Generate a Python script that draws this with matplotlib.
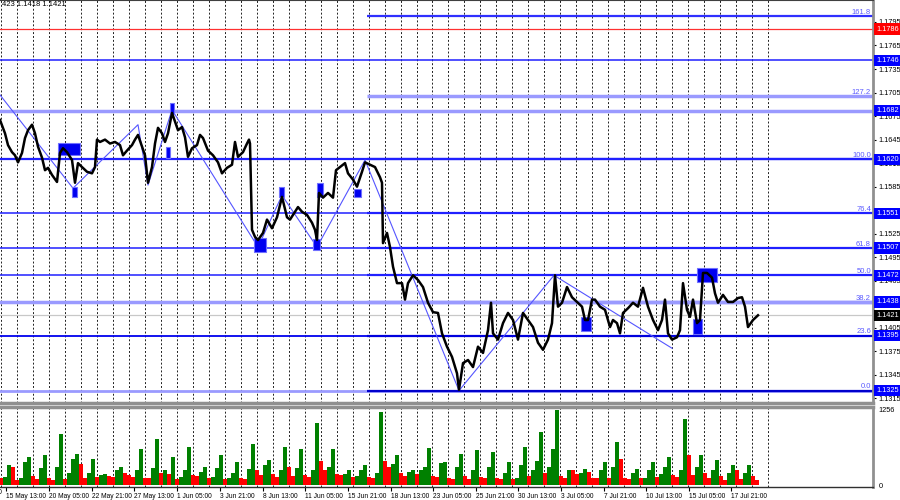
import numpy as np
import matplotlib
matplotlib.use("Agg")
import matplotlib.pyplot as plt
from matplotlib.patches import Rectangle
from matplotlib.transforms import blended_transform_factory

plt.rcParams['font.family'] = ['Liberation Sans', 'DejaVu Sans']

# время в шагах графика (1 шаг ~ 1.5 часа H1)
price_t = [0, 5, 8, 12, 15, 18, 22, 25, 28, 32, 35, 38, 42, 45, 48, 52, 57, 60, 63, 67,
           72, 75, 78, 82, 87, 92, 95, 97, 100, 105, 110, 115, 120, 123, 127, 132, 135, 138, 142, 145,
           148, 152, 155, 158, 162, 165, 168, 172, 175, 178, 182, 185, 188, 192, 197, 200, 203, 208, 213, 218,
           222, 227, 232, 235, 238, 243, 247, 249, 250, 252, 255, 258, 263, 267, 272, 277, 282, 287, 290, 295,
           298, 302, 307, 312, 315, 317, 319, 323, 328, 333, 336, 340, 345, 348, 353, 357, 362, 365, 370, 375,
           380, 382, 383, 387, 390, 393, 397, 402, 405, 408, 413, 418, 423, 428, 433, 438, 442, 447, 452, 457,
           459, 463, 468, 473, 478, 483, 488, 491, 493, 498, 503, 508, 513, 518, 523, 528, 533, 538, 543, 548,
           552, 555, 558, 562, 567, 572, 577, 582, 585, 588, 592, 595, 600, 605, 610, 613, 617, 620, 623, 628,
           633, 638, 643, 648, 653, 658, 662, 665, 668, 672, 677, 680, 683, 687, 690, 693, 697, 700, 703, 707,
           712, 715, 718, 723, 728, 733, 738, 742, 745, 748, 753, 758]
price = [1.1670, 1.1653, 1.1638, 1.1629, 1.1625, 1.1616, 1.1628, 1.1647, 1.1657, 1.1664, 1.1653, 1.1636, 1.1622, 1.1606, 1.1609, 1.1600, 1.1591, 1.1628, 1.1634, 1.1629,
         1.1619, 1.1590, 1.1615, 1.1610, 1.1604, 1.1602, 1.1610, 1.1645, 1.1642, 1.1645, 1.1640, 1.1642, 1.1638, 1.1625, 1.1631, 1.1638, 1.1645, 1.1651, 1.1636, 1.1625,
         1.1590, 1.1610, 1.1640, 1.1660, 1.1653, 1.1642, 1.1653, 1.1679, 1.1668, 1.1657, 1.1661, 1.1648, 1.1623, 1.1634, 1.1638, 1.1651, 1.1647, 1.1631, 1.1625, 1.1616,
         1.1602, 1.1609, 1.1613, 1.1642, 1.1623, 1.1629, 1.1640, 1.1645, 1.1640, 1.1530, 1.1521, 1.1517, 1.1526, 1.1543, 1.1532, 1.1546, 1.1572, 1.1546, 1.1543, 1.1553,
         1.1559, 1.1553, 1.1549, 1.1539, 1.1530, 1.1517, 1.1577, 1.1571, 1.1577, 1.1571, 1.1606, 1.1610, 1.1615, 1.1602, 1.1594, 1.1585, 1.1604, 1.1616, 1.1613, 1.1610,
         1.1597, 1.1590, 1.1513, 1.1526, 1.1508, 1.1483, 1.1462, 1.1462, 1.1441, 1.1462, 1.1472, 1.1466, 1.1457, 1.1437, 1.1425, 1.1424, 1.1398, 1.1381, 1.1368, 1.1347,
         1.1326, 1.1360, 1.1364, 1.1355, 1.1381, 1.1373, 1.1402, 1.1437, 1.1398, 1.1390, 1.1411, 1.1424, 1.1415, 1.1390, 1.1424, 1.1415, 1.1406, 1.1386, 1.1377, 1.1390,
         1.1411, 1.1472, 1.1432, 1.1437, 1.1457, 1.1444, 1.1438, 1.1432, 1.1415, 1.1415, 1.1441, 1.1441, 1.1432, 1.1428, 1.1406, 1.1415, 1.1411, 1.1398, 1.1424, 1.1430,
         1.1437, 1.1432, 1.1456, 1.1432, 1.1415, 1.1402, 1.1415, 1.1441, 1.1398, 1.1390, 1.1393, 1.1402, 1.1462, 1.1428, 1.1419, 1.1441, 1.1411, 1.1415, 1.1475, 1.1475,
         1.1469, 1.1449, 1.1437, 1.1447, 1.1438, 1.1438, 1.1443, 1.1444, 1.1432, 1.1406, 1.1415, 1.1421]

# волны (зигзаг)
wave_t = [0, 73, 138, 148, 172, 258, 282, 317, 365, 459, 554, 672]
wave_p = [1.1702, 1.1583, 1.1664, 1.1587, 1.1683, 1.1508, 1.1574, 1.1508, 1.1619, 1.1325, 1.1472, 1.1379]

# отметки (t0, t1, low, high)
marks = [(58, 80, 1.1625, 1.1641), (166, 170, 1.1622, 1.1636), (170, 174, 1.1678, 1.1692),
         (72, 77, 1.1572, 1.1585), (279, 284, 1.1572, 1.1585), (254, 266, 1.1502, 1.1520),
         (313, 320, 1.1504, 1.1518), (317, 323, 1.1572, 1.1590), (354, 361, 1.1572, 1.1582),
         (581, 591, 1.1401, 1.1419), (693, 702, 1.1397, 1.1416), (697, 717, 1.1463, 1.1481)]

# горизонтальные уровни
levels = [1.1786, 1.1746, 1.1682, 1.1620, 1.1551, 1.1507, 1.1472, 1.1438, 1.1421, 1.1395, 1.1325]
level_colors = ['#ff3030', '#2020ff', '#9a9aff', '#2020ff', '#2020ff', '#2020ff', '#2020ff',
                '#9a9aff', '#c8c8c8', '#0000ee', '#9a9aff']
level_widths = [0.9, 1.1, 2.5, 1.6, 1.1, 1.1, 1.1, 2.5, 0.9, 1.3, 2.0]
label_bg = ['#ff0000', '#0000ff', '#0000ff', '#0000ff', '#0000ff', '#0000ff', '#0000ff',
            '#0000ff', '#000000', '#0000ff', '#0000ff']

# фибо 1.1620 -> 1.1325
fib_start = 367
fib_names = ['161.8', '127.2', '100.0', '76.4', '61.8', '50.0', '38.2', '23.6', '0.0']
fib_prices = [1.1802, 1.1700, 1.1620, 1.1551, 1.1507, 1.1472, 1.1438, 1.1395, 1.1325]

price_ticks = [1.1795, 1.1765, 1.1735, 1.1705, 1.1675, 1.1645, 1.1615, 1.1585, 1.1555, 1.1525,
               1.1495, 1.1465, 1.1435, 1.1405, 1.1375, 1.1345, 1.1315]

date_t = [6, 49, 92, 134, 177, 220, 263, 305, 348, 391, 433, 476, 518, 561, 604, 646, 689, 731]
date_labels = ['15 May 13:00', '20 May 05:00', '22 May 21:00', '27 May 13:00',
               '1 Jun 05:00', '3 Jun 21:00', '8 Jun 13:00', '11 Jun 05:00', '15 Jun 21:00',
               '18 Jun 13:00', '23 Jun 05:00', '25 Jun 21:00', '30 Jun 13:00', '3 Jul 05:00',
               '7 Jul 21:00', '10 Jul 13:00', '15 Jul 05:00', '17 Jul 21:00']

volume = [110, 130, 330, 300, 90, 110, 380, 470, 150, 100,
          280, 495, 120, 90, 300, 850, 100, 200, 440, 520,
          350, 110, 200, 440, 140, 160, 190, 150, 130, 250,
          300, 200, 160, 140, 250, 600, 120, 110, 280, 770,
          200, 250, 180, 470, 100, 130, 250, 630, 160, 150,
          220, 300, 120, 140, 280, 495, 100, 110, 200, 385,
          120, 100, 260, 680, 250, 170, 330, 410, 180, 140,
          250, 630, 300, 150, 280, 605, 160, 140, 250, 1030,
          400, 250, 300, 605, 180, 160, 190, 250, 140, 150,
          250, 330, 140, 120, 200, 1225, 400, 300, 350, 495,
          200, 150, 220, 250, 180, 250, 300, 620, 150, 140,
          360, 380, 110, 100, 300, 520, 150, 100, 250, 580,
          140, 120, 300, 550, 110, 100, 200, 385, 100, 110,
          330, 630, 150, 250, 400, 880, 200, 300, 600, 1256,
          150, 120, 250, 250, 180, 200, 275, 220, 120, 110,
          250, 385, 110, 300, 715, 440, 110, 100, 200, 275,
          110, 120, 250, 385, 130, 180, 300, 470, 160, 140,
          250, 1100, 500, 160, 300, 495, 200, 110, 250, 410,
          150, 90, 200, 330, 250, 100, 200, 330, 150, 90]

W = 873
fig = plt.figure(figsize=(9, 5), dpi=100)
ax = fig.add_axes([0, 97 / 500, W / 900, 403 / 500])
axv = fig.add_axes([0, 13 / 500, W / 900, 80 / 500])

y_top = 1.18230
y_bot = y_top - 403 * 0.0001275
ax.set_xlim(0, W)
ax.set_ylim(y_bot, y_top)
axv.set_xlim(0, W)
axv.set_ylim(-33, 1303)

grid_t = np.arange(1.3, 772, 15.97)
for a in (ax, axv):
    for g in grid_t:
        a.axvline(g, color='#202020', lw=0.7, ls=(0, (2, 2)), zorder=0)

for p, c, w in zip(levels, level_colors, level_widths):
    ax.axhline(p, color=c, lw=w, zorder=1)

# фибо-линии
fib_col = ['#3030ff', '#9a9aff', '#2020ff', '#2020ff', '#2020ff', '#2020ff', '#9a9aff', '#0000dd', '#0000cc']
for n, p, c in zip(fib_names, fib_prices, fib_col):
    ax.plot([fib_start, W], [p, p], color=c, lw=1.6 if c != '#9a9aff' else 2.5, zorder=1,
            solid_capstyle='butt')
    ax.text(W - 2, p + 0.00004, n, color='#5a5aff', fontsize=5.5, ha='right', va='bottom')

ax.plot(wave_t, wave_p, color='#5555ff', lw=0.8, zorder=2)

for t0, t1, lo, hi in marks:
    ax.add_patch(Rectangle((t0, lo), t1 - t0, hi - lo, fc='#0000f0', ec='#7070ff', lw=0.8, zorder=3))

ax.plot(price_t, price, color='black', lw=1.8, zorder=4)

ax.text(2, y_top - 0.0006, '423 1.1418 1.1421', fontsize=5.5, ha='left', va='center')

# правая шкала
ax.yaxis.tick_right()
ax.set_yticks(price_ticks)
ax.set_yticklabels(['%.4f' % p for p in price_ticks], fontsize=5.3)
ax.tick_params(axis='y', length=2, width=0.8, pad=2, colors='black')
ax.set_xticks([])
tr = blended_transform_factory(ax.transAxes, ax.transData)
for p, bg in zip(levels, label_bg):
    ax.text(1.004, p, '%.4f' % p, transform=tr, fontsize=5.3, color='white', ha='left', va='center',
            bbox=dict(boxstyle='square,pad=0.3', fc=bg, ec='none'), clip_on=False, zorder=10)

for s in ('left',):
    ax.spines[s].set_visible(False)
    axv.spines[s].set_visible(False)
ax.spines['right'].set_color('#909090')
ax.spines['right'].set_linewidth(2)
ax.spines['bottom'].set_color('#909090')
ax.spines['bottom'].set_linewidth(2.5)
ax.spines['top'].set_color('#404040')
ax.spines['top'].set_linewidth(0.8)

# объёмы
vol_t = np.arange(len(volume)) * 4 + 1
vol_col = ['#008000' if i > 0 and volume[i] > volume[i - 1] else '#ff0000' for i in range(len(volume))]
axv.bar(vol_t, volume, width=3.6, color=vol_col, zorder=2)
axv.yaxis.tick_right()
axv.set_yticks([1256, 0])
axv.set_yticklabels(['1256', '0'], fontsize=5.3)
axv.tick_params(axis='y', length=0, pad=4)
axv.set_xticks(date_t)
axv.set_xticklabels(date_labels, fontsize=4.8, ha='left')
axv.tick_params(axis='x', length=3, pad=1, width=0.8)
# обрезанная подпись слева
axv.text(2, -0.02, '13 May 21:00', transform=blended_transform_factory(axv.transData, axv.transAxes),
         fontsize=4.8, ha='right', va='top', clip_on=False)
axv.spines['top'].set_color('#909090')
axv.spines['top'].set_linewidth(2.5)
axv.spines['right'].set_color('#909090')
axv.spines['right'].set_linewidth(2)
axv.spines['bottom'].set_color('#303030')
axv.spines['bottom'].set_linewidth(1)

fig.savefig('out.png', dpi=100)
